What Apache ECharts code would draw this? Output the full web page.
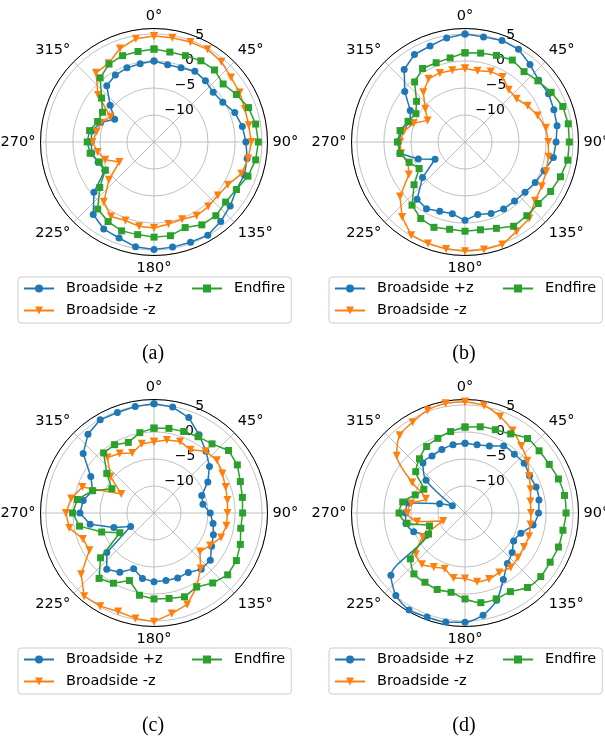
<!DOCTYPE html>
<html><head><meta charset="utf-8">
<script src="https://cdn.jsdelivr.net/npm/echarts@6/dist/echarts.min.js"></script>
<style>html,body{margin:0;padding:0;background:#fff}#c{width:605px;height:745px}</style>
</head><body><div id="c"></div>
<script>
// angles (degrees) of the measured points
const anglesDeg = [0,10,20,30,40,50,60,70,80,90,100,110,120,130,140,150,160,170,180,190,200,210,220,230,240,250,260,270,280,290,300,310,320,330,340,350];
const seriesNames = ['Broadside +z', 'Broadside -z', 'Endfire'];
const captions = ['(a)', '(b)', '(c)', '(d)'];

// (a)
const aPlusZ  = [0,-0.5,-0.4,0.1,-0.2,-0.7,-0.3,0.9,1.6,2.0,2.5,2.8,2.6,3.4,4.2,4.9,4.75,4.75,4.9,4.7,3.9,3.6,2.5,-0.5,-4.5,-4.0,-3.3,-3.4,-3.3,-4.5,-6.6,-4.4,-1.4,-0.7,-0.4,-0.3];
const aMinusZ = [4.6,4.6,4.7,4.8,4.4,3.6,3.3,2.9,2.8,3.0,2.7,2.2,0.8,0.4,0.6,0.75,0.2,0.4,0.9,0.85,0.45,0.9,-0.55,-4.1,-7.6,-5.4,-4.4,-3.6,-4.2,-4.6,-5.7,-1.5,1.7,1.8,3.4,4.4];
const aEndfire = [2.2,1.9,2.0,2.35,2.4,1.7,2.6,3.6,4.1,4.3,4.1,3.5,2.6,2.3,2.8,2.7,1.85,2.6,2.6,2.4,2.5,2.0,1.2,-1.9,-4.6,-4.2,-3.0,-2.65,-2.9,-3.9,-4.0,-2.35,0.5,1.65,2.0,2.0];
// (b)
const bPlusZ  = [5.0,4.75,5.0,4.8,3.7,2.8,2.85,2.5,2.3,1.85,1.6,0.6,0,-0.5,-0.74,-0.7,-0.9,-1.4,-0.5,-1.5,-1.35,-0.75,-1.2,-4.75,-8.6,-5.8,-2.8,-2.7,-3.1,-4.2,-3.3,-0.45,2.5,3.7,3.9,4.55];
const bMinusZ = [-1.4,-1.6,-1.1,-1.1,-2.4,-2.55,-1.6,-0.7,0.2,0.4,0.7,1.0,1.4,1.9,3.5,4.1,5.2,5.2,5.2,5.1,5.0,4.9,3.1,0.7,-3.0,-3.8,-3.0,-3.0,-3.5,-4.9,-7.0,-5.4,-3.0,-1.5,-1.4,-1.5];
const bEndfire = [1.5,1.7,2.05,2.5,2.0,2.6,3.4,4.25,4.4,4.3,4.3,3.8,3.3,2.7,2.8,3.0,2.0,1.5,1.5,1.4,1.8,1.36,0.25,-2.7,-5.2,-4.0,-2.8,-2.5,-2.8,-3.8,-4.5,-3.3,-0.5,0.7,0.6,0.8];
// (c)
const cPlusZ  = [5.2,4.9,3.8,1.7,-0.06,-1.6,-3.5,-5.6,-5.8,-4.6,-3.9,-3.3,-2.7,-1.4,-1.4,-2.3,-2.2,-2.3,-2.3,-2.7,-4.0,-2.35,-1.4,-3.6,-10,-7.1,-3.0,-1.3,-1.7,-2.9,-1.5,2.1,4.0,4.9,4.8,5.0];
const cMinusZ = [-1.8,-1.3,-0.9,-1.5,-0.1,0.2,-0.4,-0.9,-1.2,-1.4,-1.4,-1.8,-3.0,-3.9,-1.6,0.8,3.0,3.9,5.1,4.8,4.4,4.9,5.1,2.6,-1.2,-1.0,0.9,1.3,0.56,-0.9,-8.0,-4.5,-1.6,-2.3,-3.2,-2.0];
const cEndfire = [0.7,0.9,1.05,1.3,1.7,3.0,2.8,2.0,1.6,1.4,1.3,2.0,2.6,2.8,1.9,0.8,1.5,1.05,0.9,0.45,-1.7,0,0.8,-2.1,-7.7,-4.7,-1.0,0.06,-0.6,-2.9,-6.0,-3.6,-0.5,-0.4,-1.1,0.1];
// (d)
const dPlusZ  = [-2.1,-2.2,-1.8,-0.7,-0.8,-0.7,-1.2,-1.0,-1.1,-1.4,-2.2,-4.0,-4.6,-3.6,-2.8,-0.8,2.2,4.2,5.2,5.5,5.5,5.7,4.9,2.9,-6.7,-4.9,-3.9,-4.0,-4.4,-10,-12.3,-5.6,-2.9,-2.8,-2.5,-2.2];
const dMinusZ = [5.6,5.2,4.0,2.6,1.2,0.06,-1.3,-2.1,-2.7,-2.8,-2.7,-2.4,-2.4,-2.2,-1.85,-2.3,-2.0,-2.1,-2.9,-2.8,-4.0,-3.45,-2.6,-3.15,-6.0,-10.7,-6.0,-4.3,-4.9,-7.3,-3.7,1.5,3.8,4.4,5.25,5.6];
const dEndfire = [0.9,1.2,1.4,1.9,3.0,2.9,3.0,3.4,3.7,3.7,3.4,3.4,3.2,3.3,3.0,1.8,1.9,1.85,0.9,-0.1,0.06,-0.2,-0.3,-1.8,-7.2,-8.0,-4.1,-2.8,-3.3,-5.2,-6.2,-3.1,-1.9,-0.8,-0.3,0.3];

const plots = [
  [aPlusZ, aMinusZ, aEndfire],
  [bPlusZ, bMinusZ, bEndfire],
  [cPlusZ, cMinusZ, cEndfire],
  [dPlusZ, dMinusZ, dEndfire]
];

// layout
const centers = [[154,142],[465,142],[154,513],[465,513]];
const R = 113.5;
const legendPos = [[18,277],[329,277],[18,648],[329,648]];
const captionPos = [[153,344],[464,344],[153,716],[464,716]];
const smoothness = [0, 0, 0, 0.25];
const styles = [
  {color:'#1f77b4', symbol:'circle', size:7, rot:0},
  {color:'#ff7f0e', symbol:'triangle', size:8, rot:180},
  {color:'#2ca02c', symbol:'rect', size:7, rot:0}
];
const FONT = 'DejaVu Sans';

function toPolar(vals){
  const d = vals.map((v,i)=>[v, anglesDeg[i]]);
  d.push([vals[0], 360]);
  return d;
}
const minus = v => (v < 0 ? '\u2212' + Math.abs(v) : String(v));

const polar = [], angleAxis = [], radiusAxis = [], series = [], legend = [], title = [];
centers.forEach((c,i)=>{
  polar.push({center:c, radius:R});
  angleAxis.push({polarIndex:i, type:'value', min:0, max:360, interval:45, startAngle:90, clockwise:true,
    axisLine:{lineStyle:{color:'#000', width:1}}, axisTick:{show:false},
    axisLabel:{margin:5, color:'#000', fontSize:14.5, fontFamily:FONT, formatter:v=> v===360?'':v+'\u00b0'},
    splitLine:{lineStyle:{color:'#b0b0b0', width:0.8}}, z:1});
  radiusAxis.push({polarIndex:i, type:'value', min:-15, max:6, interval:5,
    axisLine:{show:false}, axisTick:{show:false}, axisLabel:{show:false},
    splitLine:{lineStyle:{color:'#b0b0b0', width:0.8}}, z:0});
});
centers.forEach((c,i)=>{
  polar.push({center:c, radius:R});
  angleAxis.push({polarIndex:4+i, type:'value', min:0, max:360, startAngle:67.5, clockwise:true, show:false});
  radiusAxis.push({polarIndex:4+i, type:'value', min:-15, max:6, interval:5,
    axisLine:{show:false}, axisTick:{show:false}, splitLine:{show:false},
    axisLabel:{margin:0, align:'left', verticalAlign:'bottom', color:'#000', fontSize:14, fontFamily:FONT,
      formatter:v=> (v===-15 || v===6) ? '' : minus(v)}, z:3});
});
plots.forEach((p,i)=>{
  p.forEach((vals,k)=>{
    const s = styles[k];
    series.push({type:'line', name:seriesNames[k], coordinateSystem:'polar', polarIndex:i,
      data:toPolar(vals), symbol:s.symbol, symbolSize:s.size, symbolRotate:s.rot, showSymbol:true,
      smooth:smoothness[i],
      lineStyle:{color:s.color, width:1.5}, itemStyle:{color:s.color}, z:2+k, animation:false});
  });
  legend.push({left:legendPos[i][0], top:legendPos[i][1], orient:'vertical', height:45,
    itemWidth:30, itemHeight:10, itemGap:5, padding:[3,6,4,5], selectedMode:false,
    backgroundColor:'#fff', borderColor:'#cccccc', borderWidth:1, borderRadius:3,
    textStyle:{fontSize:14.5, color:'#000', fontFamily:FONT, padding:[0,0,0,7], lineHeight:17},
    data:[{name:seriesNames[0], textStyle:{width:120}}, {name:seriesNames[1], textStyle:{width:120}}, {name:seriesNames[2]}]});
  title.push({text:captions[i], left:captionPos[i][0], top:captionPos[i][1], textAlign:'center', padding:0,
    textStyle:{fontFamily:'Liberation Serif', fontSize:20, fontWeight:'normal', color:'#000'}});
});

const chart = echarts.init(document.getElementById('c'), null, {renderer:'canvas'});
chart.setOption({animation:false, backgroundColor:'#fff', title, polar, angleAxis, radiusAxis, legend, series});
</script></body></html>
